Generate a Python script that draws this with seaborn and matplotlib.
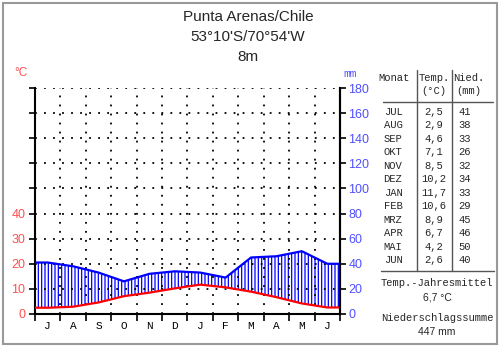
import numpy as np
import pandas as pd
import matplotlib
matplotlib.use("Agg")
import matplotlib.pyplot as plt
import seaborn as sns
from matplotlib.patches import Rectangle
from matplotlib.lines import Line2D
from matplotlib.ticker import FixedLocator, FixedFormatter

# Station data (hydrological year starting in July)
station = "Punta Arenas/Chile"
coords = "53°10'S/70°54'W"
elevation = "8m"
months = ["JUL", "AUG", "SEP", "OKT", "NOV", "DEZ", "JAN", "FEB", "MRZ", "APR", "MAI", "JUN"]
month_letters = ["J", "A", "S", "O", "N", "D", "J", "F", "M", "A", "M", "J"]
temp_c = [2.5, 2.9, 4.6, 7.1, 8.5, 10.2, 11.7, 10.6, 8.9, 6.7, 4.2, 2.6]
precip_mm = [41, 38, 33, 26, 32, 34, 33, 29, 45, 46, 50, 40]
temp_labels = [0, 10, 20, 30, 40]
precip_labels = [0, 20, 40, 60, 80, 100, 120, 140, 160, 180]
annual_temp = "6,7 °C"
annual_precip = "447 mm"

W, H = 500, 346
RED_TXT = "#ff5050"
BLUE_TXT = "#5050ff"
MONO = ["Liberation Mono", "DejaVu Sans Mono"]

sns.set_theme(style="ticks")
plt.rcParams["font.family"] = ["Liberation Sans", "DejaVu Sans"]
plt.rcParams["hatch.linewidth"] = 0.9


def fx(x):
    return x / W


def fy(y):
    return 1 - y / H


fig = plt.figure(figsize=(W / 100, H / 100), dpi=100)
ax = fig.add_axes([fx(35), fy(314), (340 - 35) / W, (314 - 88) / H])

# Walter-Lieth scaling: 10 °C corresponds to 20 mm
n = len(months)
mid = np.arange(n) + 0.5
t = np.array(temp_c, dtype=float)
p = np.array(precip_mm, dtype=float)
df = pd.DataFrame({
    "x": np.concatenate([[0], mid, [n]]),
    "temp": np.concatenate([[t[0]], t, [t[-1]]]) * 2,
    "prec": np.concatenate([[p[0]], p, [p[-1]]]),
})

# humid period hatched between temperature and precipitation curves
ax.fill_between(df["x"], df["temp"], df["prec"], facecolor="none",
                edgecolor="blue", hatch="|||||", linewidth=0, zorder=1)
sns.lineplot(data=df, x="x", y="prec", color="blue", linewidth=1.6, ax=ax, zorder=4)
sns.lineplot(data=df, x="x", y="temp", color="red", linewidth=1.6, ax=ax, zorder=4)

ax.set_xlim(0, n)
ax.set_ylim(0, 180)
ax.set_xlabel("")
ax.set_ylabel("")

# month boundaries as major ticks, month letters on minor ticks
ax.xaxis.set_major_locator(FixedLocator(np.arange(n + 1)))
ax.xaxis.set_major_formatter(FixedFormatter([""] * (n + 1)))
ax.xaxis.set_minor_locator(FixedLocator(mid))
ax.xaxis.set_minor_formatter(FixedFormatter(month_letters))
ax.tick_params(axis="x", which="major", direction="out", length=5, width=1.2, color="black")
ax.tick_params(axis="x", which="minor", length=0, pad=5, labelsize=8, labelcolor="black")
for lab in ax.get_xticklabels(minor=True):
    lab.set_fontfamily(MONO)

# left axis: temperature labels only up to 40 °C
ax.yaxis.set_major_locator(FixedLocator(precip_labels))
left_lbl = [str(v // 2) if (v // 2) in temp_labels and v <= 80 else "" for v in precip_labels]
ax.yaxis.set_major_formatter(FixedFormatter(left_lbl))
ax.tick_params(axis="y", direction="out", length=4, width=1.2, color="black",
               labelcolor=RED_TXT, labelsize=9, pad=3)

ax.grid(True, which="major", axis="both", color="black",
        linestyle=(0, (1, 4)), linewidth=1.3)
ax.set_axisbelow(False)

for side in ["left", "bottom", "right"]:
    ax.spines[side].set_visible(True)
    ax.spines[side].set_color("black")
    ax.spines[side].set_linewidth(1.5)
ax.spines["top"].set_visible(False)

# right axis: precipitation
ax2 = ax.twinx()
ax2.set_ylim(0, 180)
ax2.set_yticks(precip_labels)
ax2.set_yticklabels([str(v) for v in precip_labels])
ax2.tick_params(axis="y", direction="out", length=4, width=1.2, color="black",
                labelcolor=BLUE_TXT, labelsize=9, pad=2)
ax2.grid(False)
ax2.spines["top"].set_visible(False)
ax2.spines["left"].set_visible(False)
ax2.spines["bottom"].set_visible(False)
ax2.spines["right"].set_color("black")
ax2.spines["right"].set_linewidth(1.5)

fig.text(fx(21), fy(73), "°C", color=RED_TXT, fontsize=8.5, ha="center", va="center")
fig.text(fx(350), fy(74), "mm", color=BLUE_TXT, fontsize=8, ha="center", va="center",
         family=MONO)

# title block
fig.text(fx(248), fy(17), station, fontsize=11, ha="center", va="center")
fig.text(fx(248), fy(37), coords, fontsize=11, ha="center", va="center")
fig.text(fx(248), fy(57), elevation, fontsize=11, ha="center", va="center")

# data table
tsize = 7.6
fig.text(fx(394), fy(78), "Monat", fontsize=tsize, family=MONO, ha="center", va="center")
fig.text(fx(434), fy(78), "Temp.", fontsize=tsize, family=MONO, ha="center", va="center")
fig.text(fx(434), fy(91), "(°C)", fontsize=tsize, family=MONO, ha="center", va="center")
fig.text(fx(469), fy(78), "Nied.", fontsize=tsize, family=MONO, ha="center", va="center")
fig.text(fx(469), fy(91), "(mm)", fontsize=tsize, family=MONO, ha="center", va="center")

for i, (m, tv, pv) in enumerate(zip(months, temp_c, precip_mm)):
    y = 112 + i * 13.45
    fig.text(fx(393), fy(y), m, fontsize=tsize, family=MONO, ha="center", va="center")
    fig.text(fx(434), fy(y), f"{tv:.1f}".replace(".", ","), fontsize=tsize,
             family=MONO, ha="center", va="center")
    fig.text(fx(471), fy(y), str(pv), fontsize=tsize, family=MONO, ha="right", va="center")

line_kw = dict(transform=fig.transFigure, color="#555555", linewidth=1.0)
fig.add_artist(Line2D([fx(383), fx(493)], [fy(102), fy(102)], **line_kw))
fig.add_artist(Line2D([fx(381), fx(494)], [fy(271), fy(271)], **line_kw))
fig.add_artist(Line2D([fx(417), fx(417)], [fy(70), fy(271)], **line_kw))
fig.add_artist(Line2D([fx(452), fx(452)], [fy(70), fy(271)], **line_kw))

fig.text(fx(437), fy(283), "Temp.-Jahresmittel", fontsize=tsize, family=MONO,
         ha="center", va="center")
fig.text(fx(437), fy(297), annual_temp, fontsize=7.5, ha="center", va="center")
fig.text(fx(437), fy(318), "Niederschlagssumme", fontsize=tsize, family=MONO,
         ha="center", va="center")
fig.text(fx(437), fy(332), annual_precip, fontsize=7.5, ha="center", va="center")

# outer frame
fig.add_artist(Rectangle((fx(2.5), fy(343.5)), (497 - 2.5) / W, (343.5 - 2.5) / H,
                         transform=fig.transFigure, fill=False,
                         edgecolor="#999999", linewidth=1.5))

fig.savefig("out.png", dpi=100)
